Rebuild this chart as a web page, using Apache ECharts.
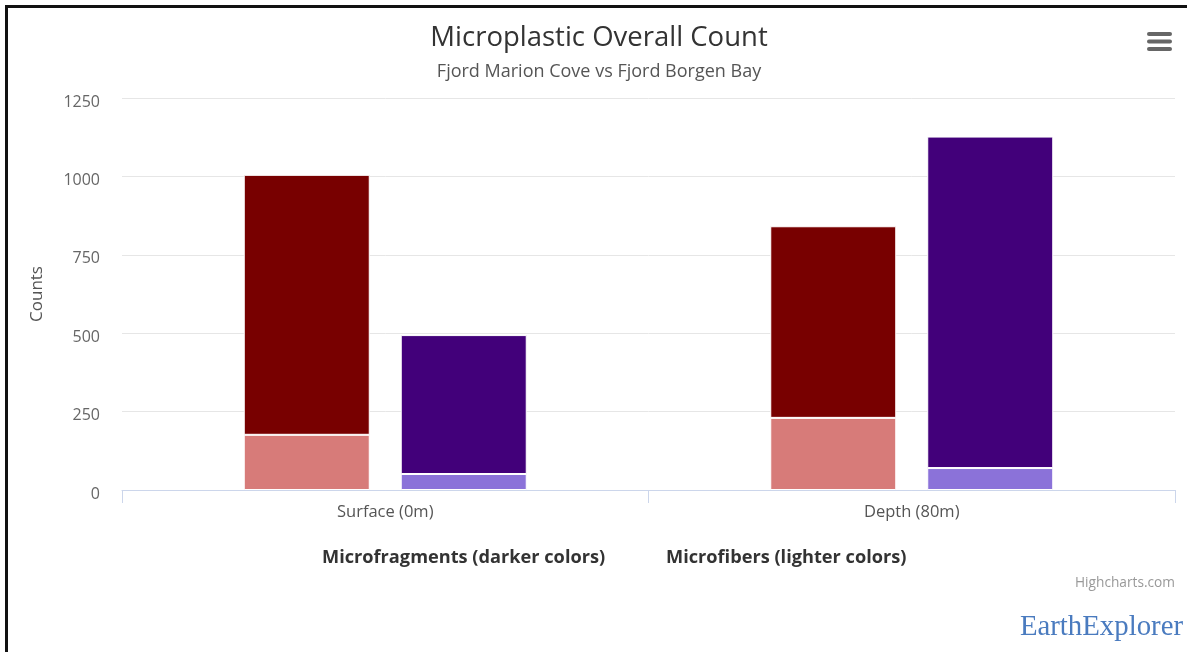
<!DOCTYPE html>
<html>
<head>
<meta charset="utf-8">
<script src="https://cdn.jsdelivr.net/npm/echarts@6/dist/echarts.min.js"></script>
<style>
html,body{margin:0;padding:0;background:#fff;}
#c{width:1187px;height:652px;}
</style>
</head>
<body>
<div id="c"></div>
<script>
var categories = ['Surface (0m)', 'Depth (80m)'];
var marionFibers = [176, 230];
var marionFragments = [829, 611];
var borgenFibers = [51, 70];
var borgenFragments = [443, 1057];
var yTicks = [0, 250, 500, 750, 1000, 1250];

var chart = echarts.init(document.getElementById('c'));
var font = '"Open Sans", "Lucida Grande", "DejaVu Sans", sans-serif';
function bar(name, stack, data, color) {
  return {
    name: name, type: 'bar', stack: stack, data: data,
    barWidth: 126, barGap: '24.6%',
    itemStyle: { color: color, borderColor: '#ffffff', borderWidth: 1 },
    emphasis: { disabled: true }
  };
}
chart.setOption({
  animation: false,
  backgroundColor: '#ffffff',
  textStyle: { fontFamily: font },
  title: {
    text: 'Microplastic Overall Count',
    subtext: 'Fjord Marion Cove vs Fjord Borgen Bay',
    left: 594, top: 19, textAlign: 'center',
    textStyle: { fontSize: 27.5, fontWeight: 'normal', color: '#333333', fontFamily: font },
    subtextStyle: { fontSize: 18, color: '#555555', fontFamily: font },
    itemGap: 11
  },
  grid: { left: 122, right: 12, top: 98, bottom: 162, containLabel: false },
  xAxis: {
    type: 'category', data: categories, boundaryGap: true,
    axisLine: { lineStyle: { color: '#ccd6eb', width: 1 } },
    axisTick: { show: true, length: 13, interval: 0, lineStyle: { color: '#ccd6eb' } },
    axisLabel: { color: '#555555', fontSize: 16.5, margin: 14, fontFamily: font }
  },
  yAxis: {
    type: 'value', min: yTicks[0], max: yTicks[yTicks.length - 1], interval: 250,
    name: 'Counts', nameLocation: 'middle', nameGap: 76, nameRotate: 90,
    nameTextStyle: { color: '#555555', fontSize: 17, fontFamily: font },
    axisLine: { show: false }, axisTick: { show: false },
    axisLabel: { color: '#666666', fontSize: 16, margin: 22, fontFamily: font,
      verticalAlign: 'top', lineHeight: 8, formatter: function (v) { return String(v); } },
    splitLine: { lineStyle: { color: '#e6e6e6', width: 1 } }
  },
  series: [
    bar('Marion Cove Microfibers', 'marion', marionFibers, '#d77b79'),
    bar('Marion Cove Microfragments', 'marion', marionFragments, '#780000'),
    bar('Borgen Bay Microfibers', 'borgen', borgenFibers, '#8b72d9'),
    bar('Borgen Bay Microfragments', 'borgen', borgenFragments, '#42007a')
  ],
  graphic: [
    { type: 'rect', shape: { x: 5, y: 5, width: 3, height: 660 }, style: { fill: '#111111' } },
    { type: 'rect', shape: { x: 5, y: 5, width: 1190, height: 3 }, style: { fill: '#111111' } },
    { type: 'rect', shape: { x: 1147, y: 32, width: 25, height: 4, r: 2 }, style: { fill: '#666666' } },
    { type: 'rect', shape: { x: 1147, y: 39.5, width: 25, height: 4, r: 2 }, style: { fill: '#666666' } },
    { type: 'rect', shape: { x: 1147, y: 47, width: 25, height: 4, r: 2 }, style: { fill: '#666666' } },
    { type: 'text', left: 322, top: 549, style: { text: 'Microfragments (darker colors)', fill: '#333333', font: 'bold 18.2px ' + font } },
    { type: 'text', left: 666, top: 549, style: { text: 'Microfibers (lighter colors)', fill: '#333333', font: 'bold 18.2px ' + font } },
    { type: 'text', right: 12, top: 576, style: { text: 'Highcharts.com', fill: '#999999', font: '13.7px ' + font } },
    { type: 'text', right: 4, top: 613, style: { text: 'EarthExplorer', fill: '#4a7bbf', font: '28.8px "Liberation Serif", "DejaVu Serif", serif' } }
  ]
});
</script>
</body>
</html>
